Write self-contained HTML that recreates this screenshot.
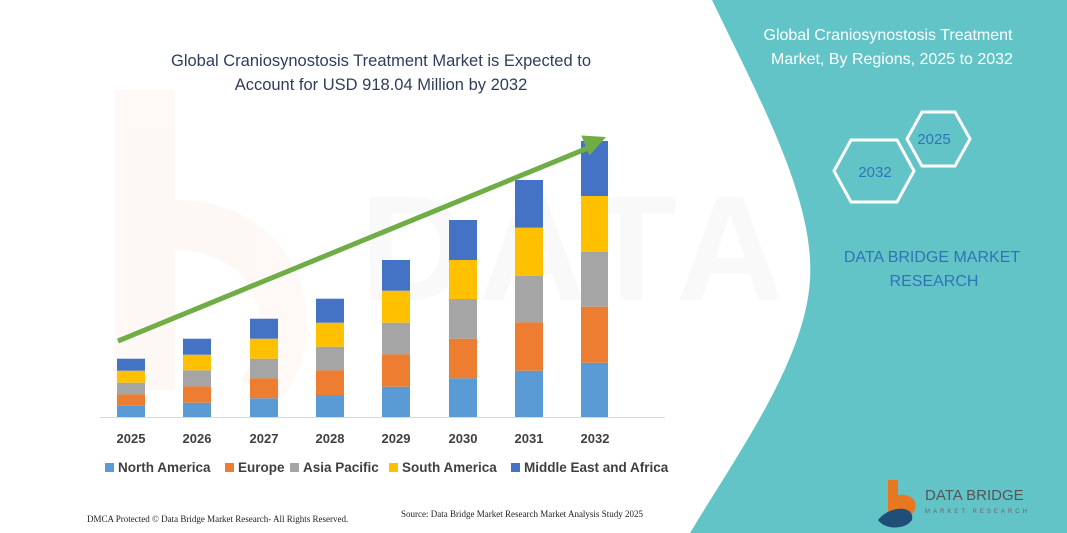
<!DOCTYPE html>
<html><head><meta charset="utf-8"><style>
html,body{margin:0;padding:0;background:#fff}
svg{display:block}
</style></head><body>
<svg width="1067" height="533" viewBox="0 0 1067 533" xmlns="http://www.w3.org/2000/svg" font-family="Liberation Sans, sans-serif">
<rect width="1067" height="533" fill="#fff"/>
<!-- faint watermark -->
<g opacity="0.04" fill="#e86b1f"><path d="M115 90 h60 v300 h-60z"/><path d="M175 200 C300 200 340 330 280 400 L240 380 C280 330 260 250 175 250z"/></g>
<g opacity="0.035" fill="#666" font-size="150" font-weight="bold"><text x="360" y="300" letter-spacing="10">DATA BRIDGE</text></g>
<!-- teal panel -->
<path d="M712 0 C760 100 815 200 810 280 C805 360 740 450 690 533 L1067 533 L1067 0 Z" fill="#63C4C8"/>
<text x="888" y="40" text-anchor="middle" fill="#fff" font-size="16">Global Craniosynostosis Treatment</text>
<text x="892" y="64" text-anchor="middle" fill="#fff" font-size="16">Market, By Regions, 2025 to 2032</text>
<polygon points="907,139 922,112 955,112 970,139 955,166 922,166" fill="none" stroke="#fff" stroke-width="3"/>
<text x="934" y="144" text-anchor="middle" fill="#2E75B6" font-size="15">2025</text>
<polygon points="834,171 851,140 897,140 914,171 897,202 851,202" fill="none" stroke="#fff" stroke-width="3"/>
<text x="875" y="177" text-anchor="middle" fill="#2E75B6" font-size="15">2032</text>
<text x="932" y="262" text-anchor="middle" fill="#2E75B6" font-size="16">DATA BRIDGE MARKET</text>
<text x="934" y="286" text-anchor="middle" fill="#2E75B6" font-size="16">RESEARCH</text>
<!-- logo -->
<path d="M888 480 h10 v35 h-10z" fill="#E87722"/>
<path d="M898 495 C918 492 922 512 905 518 L898 518z" fill="#E87722"/>
<path d="M878 520 C890 505 915 505 912 520 C905 530 885 530 878 520z" fill="#1F4E79"/>
<text x="925" y="500" fill="#555" font-size="15">DATA BRIDGE</text>
<text x="925" y="513" fill="#666" font-size="6" letter-spacing="3">MARKET RESEARCH</text>
<!-- title -->
<text x="381" y="66" text-anchor="middle" fill="#2F3D5C" font-size="16.5">Global Craniosynostosis Treatment Market is Expected to</text>
<text x="381" y="90" text-anchor="middle" fill="#2F3D5C" font-size="16.5">Account for USD 918.04 Million by 2032</text>
<!-- axis -->
<line x1="100" y1="417.5" x2="665" y2="417.5" stroke="#d9d9d9" stroke-width="1"/>
<g font-size="13" font-weight="bold" fill="#404040" text-anchor="middle">
<text x="131" y="443">2025</text><text x="197" y="443">2026</text><text x="264" y="443">2027</text><text x="330" y="443">2028</text>
<text x="396" y="443">2029</text><text x="463" y="443">2030</text><text x="529" y="443">2031</text><text x="595" y="443">2032</text>
</g>
<g>
<rect x="117" y="405.7" width="28" height="11.3" fill="#5B9BD5"/><rect x="117" y="394.3" width="28" height="11.4" fill="#ED7D31"/><rect x="117" y="382.7" width="28" height="11.6" fill="#A5A5A5"/><rect x="117" y="370.7" width="28" height="12" fill="#FFC000"/><rect x="117" y="358.7" width="28" height="12" fill="#4472C4"/>
<rect x="183" y="402.7" width="28" height="14.3" fill="#5B9BD5"/><rect x="183" y="386.3" width="28" height="16.4" fill="#ED7D31"/><rect x="183" y="370.3" width="28" height="16" fill="#A5A5A5"/><rect x="183" y="354.7" width="28" height="15.6" fill="#FFC000"/><rect x="183" y="338.7" width="28" height="16" fill="#4472C4"/>
<rect x="250" y="398.3" width="28" height="18.7" fill="#5B9BD5"/><rect x="250" y="378.3" width="28" height="20" fill="#ED7D31"/><rect x="250" y="358.7" width="28" height="19.6" fill="#A5A5A5"/><rect x="250" y="338.7" width="28" height="20" fill="#FFC000"/><rect x="250" y="318.7" width="28" height="20" fill="#4472C4"/>
<rect x="316" y="395" width="28" height="22" fill="#5B9BD5"/><rect x="316" y="370.3" width="28" height="24.7" fill="#ED7D31"/><rect x="316" y="346.7" width="28" height="23.6" fill="#A5A5A5"/><rect x="316" y="322.7" width="28" height="24" fill="#FFC000"/><rect x="316" y="298.7" width="28" height="24" fill="#4472C4"/>
<rect x="382" y="386.7" width="28" height="30.3" fill="#5B9BD5"/><rect x="382" y="354.3" width="28" height="32.4" fill="#ED7D31"/><rect x="382" y="322.7" width="28" height="31.6" fill="#A5A5A5"/><rect x="382" y="290.7" width="28" height="32" fill="#FFC000"/><rect x="382" y="260" width="28" height="30.7" fill="#4472C4"/>
<rect x="449" y="378.3" width="28" height="38.7" fill="#5B9BD5"/><rect x="449" y="338.7" width="28" height="39.6" fill="#ED7D31"/><rect x="449" y="299" width="28" height="39.7" fill="#A5A5A5"/><rect x="449" y="260" width="28" height="39" fill="#FFC000"/><rect x="449" y="220" width="28" height="40" fill="#4472C4"/>
<rect x="515" y="370.7" width="28" height="46.3" fill="#5B9BD5"/><rect x="515" y="322.3" width="28" height="48.4" fill="#ED7D31"/><rect x="515" y="275.7" width="28" height="46.6" fill="#A5A5A5"/><rect x="515" y="227.7" width="28" height="48" fill="#FFC000"/><rect x="515" y="180" width="28" height="47.7" fill="#4472C4"/>
<rect x="581" y="362.7" width="27" height="54.3" fill="#5B9BD5"/><rect x="581" y="306.7" width="27" height="56" fill="#ED7D31"/><rect x="581" y="252" width="27" height="54.7" fill="#A5A5A5"/><rect x="581" y="196" width="27" height="56" fill="#FFC000"/><rect x="581" y="141" width="27" height="55" fill="#4472C4"/>
</g>
<!-- arrow -->
<line x1="118" y1="341" x2="588" y2="148" stroke="#70AD47" stroke-width="5"/>
<polygon points="606,137 589.4,155.6 581.3,135.5" fill="#70AD47"/>
<!-- legend -->
<g font-size="13.5" font-weight="bold" fill="#404040">
<rect x="105" y="463" width="9" height="9" fill="#5B9BD5"/><text x="118" y="472">North America</text>
<rect x="225" y="463" width="9" height="9" fill="#ED7D31"/><text x="238" y="472">Europe</text>
<rect x="290" y="463" width="9" height="9" fill="#A5A5A5"/><text x="303" y="472">Asia Pacific</text>
<rect x="389" y="463" width="9" height="9" fill="#FFC000"/><text x="402" y="472">South America</text>
<rect x="511" y="463" width="9" height="9" fill="#4472C4"/><text x="524" y="472">Middle East and Africa</text>
</g>
<text x="87" y="522" font-family="Liberation Serif, serif" font-size="9" fill="#222">DMCA Protected © Data Bridge Market Research-  All Rights Reserved.</text>
<text x="401" y="517" font-family="Liberation Serif, serif" font-size="9" fill="#222">Source: Data Bridge Market Research  Market Analysis Study 2025</text>
</svg>
</body></html>
